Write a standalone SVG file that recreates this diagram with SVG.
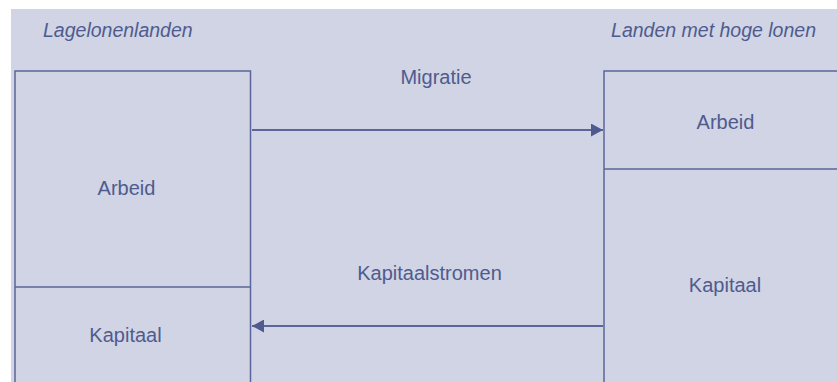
<svg xmlns="http://www.w3.org/2000/svg" width="837" height="382" viewBox="0 0 837 382">
<defs>
<style>
.t{font-family:"Liberation Sans",Arial,sans-serif;font-size:20px;fill:#4f5b8f}
.i{font-style:italic;font-size:19.5px}
.box{fill:none;stroke:#5a6699;stroke-width:1.5}
.con{stroke:#5a6699;stroke-width:2;fill:none}
</style>
<marker id="ah" viewBox="0 0 12 13" refX="12" refY="6.5" markerWidth="12" markerHeight="13" markerUnits="userSpaceOnUse" orient="auto">
<path d="M0,0 L12,6.5 L0,13 Z" fill="#4f5b8f"/>
</marker>
</defs>
<rect width="837" height="382" fill="#ffffff"/>
<rect x="11" y="9" width="826" height="373" fill="#d0d4e4"/>
<text class="t i" x="43" y="37">Lagelonenlanden</text>
<text class="t i" x="816" y="37" text-anchor="end">Landen met hoge lonen</text>
<g id="low-arbeid">
<path class="box" d="M15,390 V71 H250.5 V390 M15,287 H250.5"/>
<text class="t" x="126.5" y="195" text-anchor="middle">Arbeid</text>
</g>
<g id="low-kapitaal">
<text class="t" x="125.5" y="342" text-anchor="middle">Kapitaal</text>
</g>
<g id="high-arbeid">
<path class="box" d="M604,390 V71 H845 M604,169 H845"/>
<text class="t" x="725.5" y="129" text-anchor="middle">Arbeid</text>
</g>
<g id="high-kapitaal">
<text class="t" x="725" y="292" text-anchor="middle">Kapitaal</text>
</g>
<g id="connectors">
<line class="con" x1="252" y1="130" x2="603" y2="130" marker-end="url(#ah)"/>
<text class="t" x="436" y="84" text-anchor="middle">Migratie</text>
<line class="con" x1="603" y1="326" x2="252" y2="326" marker-end="url(#ah)"/>
<text class="t" x="429.5" y="280" text-anchor="middle">Kapitaalstromen</text>
</g>
</svg>
